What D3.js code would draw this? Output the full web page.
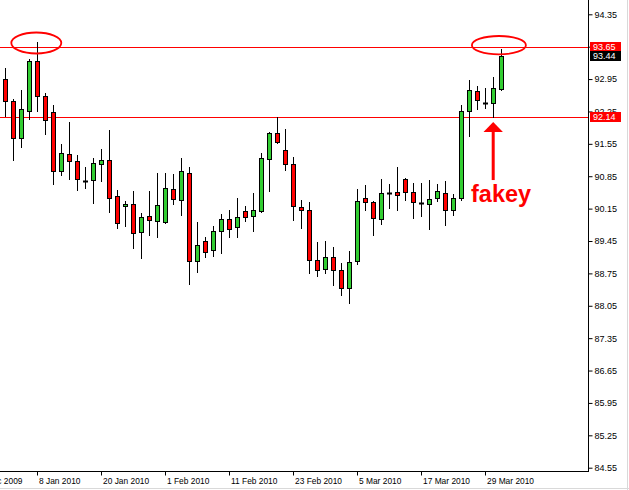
<!DOCTYPE html>
<html>
<head>
<meta charset="utf-8">
<script src="https://cdn.jsdelivr.net/npm/d3@7/dist/d3.min.js"></script>
<style>
html,body{margin:0;padding:0;background:#fff;}
svg{display:block;}
text{font-family:"Liberation Sans",Arial,sans-serif;}
</style>
</head>
<body>
<svg id="chart" width="629" height="490"></svg>
<script>
// ---- data (bar index 0 = 4 Jan 2010, daily bars) ----
const open  = [92.95,92.47,91.67,92.27,93.33,92.58,92.23,90.96,91.32,91.17,90.75,90.76,91.11,91.19,90.42,90.20,90.24,89.64,89.98,89.88,89.85,90.57,90.33,90.93,89.01,89.46,89.25,89.66,89.92,89.75,90.09,89.98,90.09,91.22,91.78,91.41,91.11,90.18,90.11,89.03,88.84,89.10,88.82,88.43,89.01,90.37,90.29,89.92,90.49,90.50,90.80,90.50,90.28,90.26,90.37,90.48,90.11,90.37,92.25,92.69,92.44,92.43,92.73];
const high  = [93.18,92.51,92.71,93.38,93.75,92.64,92.39,91.55,92.02,91.30,91.05,91.24,91.44,91.85,90.55,90.31,90.53,90.05,90.53,90.92,90.92,90.90,91.24,91.04,89.85,89.54,89.77,90.03,90.12,90.38,90.20,90.49,91.35,91.81,92.13,91.87,91.26,90.34,90.29,89.42,89.44,89.33,88.97,89.23,90.57,90.65,90.31,90.78,90.68,91.04,90.82,90.70,90.70,90.76,90.68,90.74,90.46,92.38,92.92,92.79,92.75,92.99,93.59];
const low   = [92.16,91.21,91.49,92.08,92.25,91.77,90.69,90.88,90.80,90.56,90.60,90.28,90.75,90.08,89.74,89.78,89.30,89.09,89.59,89.54,89.84,90.24,90.02,88.51,88.79,89.11,89.13,89.20,89.54,89.54,89.88,89.67,90.08,90.54,91.57,90.99,89.90,89.74,88.76,88.70,88.76,88.50,88.29,88.10,88.95,90.11,89.59,89.82,90.17,90.13,90.33,89.95,90.00,89.72,90.31,89.80,90.02,90.33,91.73,92.30,92.32,92.14,92.72];
const close = [92.47,91.67,92.30,93.33,92.58,92.06,90.96,91.35,91.17,90.80,90.75,91.13,91.19,90.39,89.83,90.24,89.62,89.96,89.90,90.22,90.59,90.35,90.96,89.01,89.36,89.22,89.66,89.92,89.72,89.96,89.96,90.11,91.24,91.78,91.58,91.11,90.20,90.11,89.03,88.82,89.10,88.82,88.43,88.99,90.31,90.29,89.94,90.48,90.49,90.44,90.50,90.29,90.28,90.35,90.52,90.11,90.37,92.27,92.71,92.49,92.44,92.75,93.44];

const xTickIdx    = [-4, 4, 12, 20, 28, 36, 44, 52, 60];
const xTickLabels = ["28 Dec 2009","8 Jan 2010","20 Jan 2010","1 Feb 2010","11 Feb 2010","23 Feb 2010","5 Mar 2010","17 Mar 2010","29 Mar 2010"];
const yTicks = [94.35,93.65,92.95,92.25,91.55,90.85,90.15,89.45,88.75,88.05,87.35,86.65,85.95,85.25,84.55];
const levels = [93.65, 92.14];
const lastPrice = 93.44;
const annotation = "fakey";

// ---- layout ----
const W = 629, H = 490;
const axisX = 588, axisY = 471;
const svg = d3.select("#chart");

const x = d3.scaleLinear().domain([0, 1]).range([5.5, 13.5]);
const y = d3.scaleLinear().domain([84.55, 94.35]).range([467.7, 14.3]);
const snap = v => Math.round(v) + 0.5;

svg.append("rect").attr("width", W).attr("height", H).attr("fill", "#fff");

const plot = svg.append("g");
svg.append("defs").append("clipPath").attr("id","pc")
  .append("rect").attr("x",0).attr("y",0).attr("width",axisX).attr("height",axisY);
plot.attr("clip-path","url(#pc)");

// horizontal levels
plot.selectAll("line.lvl").data(levels).enter().append("line")
  .attr("x1", 0).attr("x2", axisX).attr("y1", d => snap(y(d))).attr("y2", d => snap(y(d)))
  .attr("stroke", "#ff0000").attr("stroke-width", 1);

// candles
const bars = d3.range(open.length).map(i => ({i, o: open[i], h: high[i], l: low[i], c: close[i]}));
const g = plot.selectAll("g.c").data(bars).enter().append("g");
g.append("line")
  .attr("x1", d => x(d.i)).attr("x2", d => x(d.i))
  .attr("y1", d => Math.round(y(d.h))).attr("y2", d => Math.round(y(d.l)) + 1)
  .attr("stroke", "#000").attr("stroke-width", 1);
g.filter(d => d.o !== d.c).append("rect")
  .attr("x", d => x(d.i) - 2)
  .attr("width", 4)
  .attr("y", d => snap(y(Math.max(d.o, d.c))))
  .attr("height", d => Math.max(1, snap(y(Math.min(d.o, d.c))) - snap(y(Math.max(d.o, d.c)))))
  .attr("fill", d => d.c > d.o ? "#32cd32" : "#ff0000")
  .attr("stroke", "#000").attr("stroke-width", 1);
g.filter(d => d.o === d.c).append("line")
  .attr("x1", d => x(d.i) - 2.5).attr("x2", d => x(d.i) + 2.5)
  .attr("y1", d => snap(y(d.o))).attr("y2", d => snap(y(d.o)))
  .attr("stroke", "#000").attr("stroke-width", 2);

// annotations: ellipses
const ell = [[4, 93.75], [62, 93.62]];
plot.append("ellipse").attr("cx", x(ell[0][0]) - 1.2).attr("cy", 43).attr("rx", 25).attr("ry", 10.5)
  .attr("fill", "none").attr("stroke", "#ff0000").attr("stroke-width", 1.8);
plot.append("ellipse").attr("cx", x(ell[1][0]) - 2.6).attr("cy", 45.2).attr("rx", 27).attr("ry", 9.2)
  .attr("fill", "none").attr("stroke", "#ff0000").attr("stroke-width", 1.8);

// arrow pointing at the fakey low
const ax = x(61) - 0.3, tipY = y(low[61]) + 5.5;
plot.append("path")
  .attr("d", `M${ax},${tipY} L${ax-9.7},${tipY+10} L${ax+9.7},${tipY+10} Z`)
  .attr("fill", "#ff0000");
plot.append("rect").attr("x", ax - 1.5).attr("y", tipY + 9).attr("width", 3).attr("height", 49)
  .attr("fill", "#ff0000");
plot.append("text").attr("x", 471).attr("y", 201.7).text(annotation)
  .attr("font-size", "23.5px").attr("font-weight", "bold").attr("fill", "#ff0000");

// axes lines
svg.append("line").attr("x1", axisX + 0.5).attr("x2", axisX + 0.5).attr("y1", 0).attr("y2", axisY + 1)
  .attr("stroke", "#000");
svg.append("line").attr("x1", 0).attr("x2", axisX + 1).attr("y1", axisY + 0.5).attr("y2", axisY + 0.5)
  .attr("stroke", "#000");

// y axis
const yAxis = d3.axisRight(y).tickValues(yTicks).tickSize(4).tickPadding(2).tickFormat(d3.format(".2f"));
const yg = svg.append("g").attr("transform", `translate(${axisX + 0.5},0)`).call(yAxis);
yg.select(".domain").remove();
yg.selectAll("text").attr("font-size", "9px").attr("font-family", "'Liberation Sans',Arial,sans-serif").attr("fill", "#000");
yg.selectAll("line").attr("stroke", "#000");

// x axis
const xg = svg.append("g").attr("transform", `translate(0,${axisY + 0.5})`);
xg.selectAll("line").data(xTickIdx).enter().append("line")
  .attr("x1", d => x(d)).attr("x2", d => x(d)).attr("y1", 0).attr("y2", 4).attr("stroke", "#000");
xg.selectAll("text").data(xTickIdx).enter().append("text")
  .attr("x", d => x(d) + 1.5).attr("y", 12.5)
  .text((d, k) => xTickLabels[k])
  .attr("font-size", "8.4px").attr("fill", "#000");

// price labels
const tags = [
  {v: levels[0], bg: "#ff0000"},
  {v: lastPrice, bg: "#000000"},
  {v: levels[1], bg: "#ff0000"}
];
const tg = svg.selectAll("g.tag").data(tags).enter().append("g");
tg.append("rect").attr("x", axisX + 2).attr("width", 31).attr("height", 10)
  .attr("y", d => Math.round(y(d.v)) - 5).attr("fill", d => d.bg);
tg.append("text").attr("x", axisX + 5).attr("y", d => Math.round(y(d.v)) + 3.3)
  .text(d => d3.format(".2f")(d.v)).attr("font-size", "9px").attr("fill", "#fff");

// window frame
svg.append("line").attr("x1", 0).attr("x2", W).attr("y1", 488.5).attr("y2", 488.5).attr("stroke", "#d9d9d9");
svg.append("line").attr("x1", 627.5).attr("x2", 627.5).attr("y1", 0).attr("y2", H).attr("stroke", "#d9d9d9");
</script>
</body>
</html>
